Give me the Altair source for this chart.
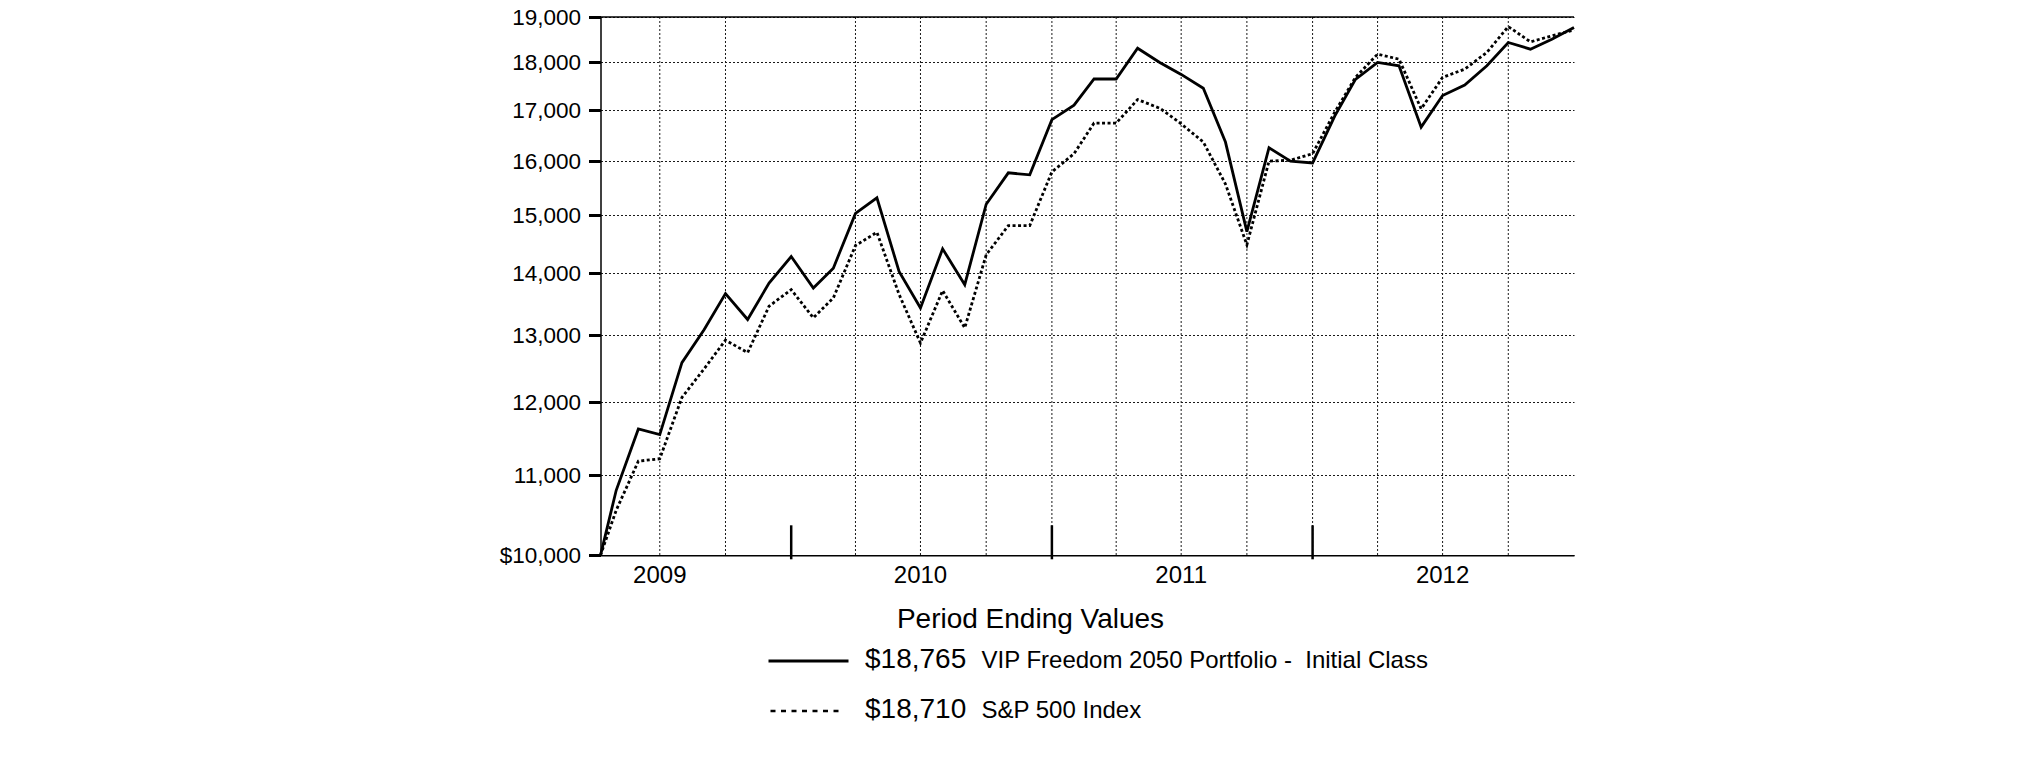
import altair as alt
import pandas as pd

# ---------------- data ----------------
dates = [
    "2009-04-08", "2009-04-30", "2009-05-31", "2009-06-30", "2009-07-31", "2009-08-31",
    "2009-09-30", "2009-10-31", "2009-11-30", "2009-12-31",
    "2010-01-31", "2010-02-28", "2010-03-31", "2010-04-30", "2010-05-31", "2010-06-30",
    "2010-07-31", "2010-08-31", "2010-09-30", "2010-10-31", "2010-11-30", "2010-12-31",
    "2011-01-31", "2011-02-28", "2011-03-31", "2011-04-30", "2011-05-31", "2011-06-30",
    "2011-07-31", "2011-08-31", "2011-09-30", "2011-10-31", "2011-11-30", "2011-12-31",
    "2012-01-31", "2012-02-29", "2012-03-31", "2012-04-30", "2012-05-31", "2012-06-30",
    "2012-07-31", "2012-08-31", "2012-09-30", "2012-10-31", "2012-11-30", "2012-12-31",
]
fund_values = [
    10000, 10806, 11626, 11548, 12582, 13085, 13663, 13247, 13835, 14280,
    13754, 14083, 15034, 15316, 14029, 13431, 14411, 13809, 15198, 15778, 15740, 16812,
    17103, 17646, 17646, 18306, 17998, 17743, 17452, 16368, 14711, 16258, 15998, 15965,
    16881, 17639, 17998, 17927, 16662, 17302, 17521, 17927, 18431, 18285, 18503, 18765,
]
index_values = [
    10000, 10552, 11188, 11220, 12071, 12489, 12925, 12733, 13458, 13727,
    13273, 13591, 14468, 14698, 13650, 12880, 13711, 13116, 14309, 14816, 14816, 15796,
    16143, 16742, 16742, 17219, 17042, 16728, 16368, 15570, 14480, 16000, 16017, 16143,
    16961, 17680, 18177, 18069, 17029, 17680, 17855, 18214, 18784, 18446, 18578, 18710,
]
series_names = ["VIP Freedom 2050 Portfolio -\u00a0 Initial Class", "S&P 500 Index"]
ending_values = ["$18,765", "$18,710"]
legend_title = "Period Ending Values"

y_ticks = [10000, 11000, 12000, 13000, 14000, 15000, 16000, 17000, 18000, 19000]
y_tick_labels = ["$10,000", "11,000", "12,000", "13,000", "14,000", "15,000",
                 "16,000", "17,000", "18,000", "19,000"]

year_label_dates = ["2009-06-30", "2010-06-30", "2011-06-30", "2012-06-30"]
year_labels = ["2009", "2010", "2011", "2012"]
grid_dates = ["2009-06-30", "2009-09-30", "2010-03-31", "2010-06-30", "2010-09-30",
              "2010-12-31", "2011-03-31", "2011-06-30", "2011-09-30", "2011-12-31",
              "2012-03-31", "2012-06-30", "2012-09-30"]
year_end_dates = ["2009-12-31", "2010-12-31", "2011-12-31"]

# ---------------- layout / style ----------------
W, H = 973.5, 538.3
TOP = 9.0           # plot top = page y 17
FONT = "Liberation Sans"

fund_df = pd.DataFrame({"date": dates, "value": fund_values})
index_df = pd.DataFrame({"date": dates, "value": index_values})
grid_df = pd.DataFrame({"date": grid_dates})
yend_df = pd.DataFrame({"date": year_end_dates})
ylab_df = pd.DataFrame({"date": year_label_dates, "label": year_labels})

label_expr = "''"
for v, lab in zip(y_ticks, y_tick_labels):
    label_expr = f"datum.value == {v} ? '{lab}' : ({label_expr})"

x_scale = alt.Scale(type="utc", nice=False)
y_scale = alt.Scale(type="log", domain=[10000, 19000], nice=False)

x_enc = alt.X("date:T", scale=x_scale,
              axis=alt.Axis(title=None, labels=False, ticks=False, grid=False,
                            domain=True, domainColor="black", domainWidth=1.5))
y_axis = alt.Axis(title=None, values=y_ticks, labelExpr=label_expr,
                  labelFont=FONT, labelFontSize=22.5, labelColor="black",
                  labelPadding=8, labelBaseline="middle",
                  tickSize=12, tickWidth=3, tickColor="black",
                  domain=True, domainColor="black", domainWidth=1.5,
                  grid=True, gridColor="#1a1a1a", gridDash=[2, 2], gridWidth=1)
y_enc = alt.Y("value:Q", scale=y_scale, axis=y_axis)

vgrid = alt.Chart(grid_df).mark_rule(color="#1a1a1a", strokeWidth=1, strokeDash=[2, 2]).encode(
    x=alt.X("date:T", scale=x_scale))

index_line = alt.Chart(index_df).mark_line(color="black", strokeWidth=2.8, strokeDash=[3, 2.5]).encode(
    x=x_enc, y=y_enc)
fund_line = alt.Chart(fund_df).mark_line(color="black", strokeWidth=2.8).encode(
    x=alt.X("date:T", scale=x_scale), y=alt.Y("value:Q", scale=y_scale))

top_border = alt.Chart(alt.Data(values=[{}])).mark_rule(color="black", strokeWidth=1.5).encode(
    x=alt.value(0), x2=alt.value(W), y=alt.value(0))

year_ticks = alt.Chart(yend_df).mark_rule(color="black", strokeWidth=2.5).encode(
    x=alt.X("date:T", scale=x_scale), y=alt.value(H - 30), y2=alt.value(H + 4))

year_text = alt.Chart(ylab_df).mark_text(font=FONT, fontSize=24, color="black",
                                         align="center", baseline="alphabetic").encode(
    x=alt.X("date:T", scale=x_scale), y=alt.value(H + 28), text="label:N")

# legend block (offsets relative to plot bottom)
B = H
one = alt.Data(values=[{}])
leg_title = alt.Chart(one).mark_text(text=legend_title, font=FONT, fontSize=28, color="black",
                                     align="center", baseline="alphabetic").encode(
    x=alt.value(430), y=alt.value(B + 73))
leg_solid = alt.Chart(one).mark_rule(color="black", strokeWidth=3).encode(
    x=alt.value(168), x2=alt.value(248), y=alt.value(B + 105.7))
leg_dot = alt.Chart(one).mark_rule(color="black", strokeWidth=2.5, strokeDash=[5, 5.5]).encode(
    x=alt.value(170), x2=alt.value(242), y=alt.value(B + 155.7))
leg_v1 = alt.Chart(one).mark_text(text=ending_values[0], font=FONT, fontSize=28, color="black",
                                  align="left", baseline="alphabetic").encode(
    x=alt.value(264.5), y=alt.value(B + 112.4))
leg_n1 = alt.Chart(one).mark_text(text=series_names[0], font=FONT, fontSize=24, color="black",
                                  align="left", baseline="alphabetic").encode(
    x=alt.value(381), y=alt.value(B + 112.4))
leg_v2 = alt.Chart(one).mark_text(text=ending_values[1], font=FONT, fontSize=28, color="black",
                                  align="left", baseline="alphabetic").encode(
    x=alt.value(264.5), y=alt.value(B + 163))
leg_n2 = alt.Chart(one).mark_text(text=series_names[1], font=FONT, fontSize=24, color="black",
                                  align="left", baseline="alphabetic").encode(
    x=alt.value(381), y=alt.value(B + 163))

chart = alt.layer(
    vgrid, index_line, fund_line, top_border, year_ticks, year_text,
    leg_title, leg_solid, leg_dot, leg_v1, leg_n1, leg_v2, leg_n2,
).properties(
    width=W, height=H,
    autosize=alt.AutoSizeParams(type="none"),
    padding={"left": 592.5, "top": TOP, "right": 443, "bottom": 745 - TOP - H},
    background="white",
).configure_view(stroke=None)

chart.save("out.html", embed_options={"renderer": "svg", "actions": False})
